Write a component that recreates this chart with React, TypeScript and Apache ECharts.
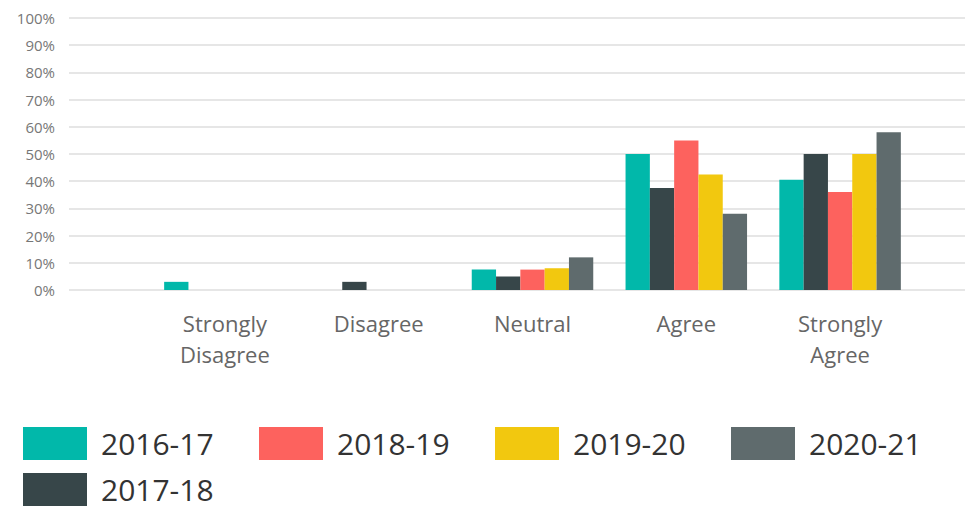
import React, { useEffect, useRef } from "react";
import * as echarts from "echarts";

const categories = ["Strongly\nDisagree", "Disagree", "Neutral", "Agree", "Strongly\nAgree"];
const seriesNames = ["2016-17", "2017-18", "2018-19", "2019-20", "2020-21"];
const seriesColors = ["#01B8AA", "#374649", "#FD625E", "#F2C80F", "#5F6B6D"];
const v2016_17 = [3, 0, 7.5, 50, 40.5];
const v2017_18 = [0, 3, 5, 37.5, 50];
const v2018_19 = [0, 0, 7.5, 55, 36];
const v2019_20 = [0, 0, 8, 42.5, 50];
const v2020_21 = [0, 0, 12, 28, 58];
const seriesValues = [v2016_17, v2017_18, v2018_19, v2019_20, v2020_21];
const yTicks = [0, 10, 20, 30, 40, 50, 60, 70, 80, 90, 100];

const FONT = "'Segoe UI', 'Open Sans', 'Noto Sans', sans-serif";

// legend layout: [name, left, top]
const legendLayout: [string, number, number][] = [
  ["2016-17", 23, 427],
  ["2018-19", 259, 427],
  ["2019-20", 495, 427],
  ["2020-21", 731, 427],
  ["2017-18", 23, 473],
];

export default function App() {
  const ref = useRef<HTMLDivElement>(null);
  useEffect(() => {
    if (!ref.current) return;
    const chart = echarts.init(ref.current, null, { renderer: "svg" });
    chart.setOption({
      animation: false,
      textStyle: { fontFamily: FONT },
      grid: [
        { left: 69, right: 1, top: 18, bottom: 220 },
        { left: 148, right: 49, top: 18, bottom: 220 },
      ],
      xAxis: [
        { gridIndex: 0, type: "category", data: categories, show: false },
        {
          gridIndex: 1,
          type: "category",
          data: categories,
          axisLine: { show: false },
          axisTick: { show: false },
          axisLabel: {
            color: "#666666",
            fontSize: 22,
            lineHeight: 31,
            margin: 17,
            fontFamily: FONT,
          },
        },
      ],
      yAxis: [
        {
          gridIndex: 0,
          type: "value",
          min: yTicks[0],
          max: yTicks[yTicks.length - 1],
          interval: 10,
          axisLine: { show: false },
          axisTick: { show: false },
          axisLabel: {
            formatter: "{value}%",
            color: "#777777",
            fontSize: 15,
            margin: 14,
            fontFamily: FONT,
          },
          splitLine: { lineStyle: { color: "#dedede", width: 1.5 } },
        },
        {
          gridIndex: 1,
          type: "value",
          min: 0,
          max: 100,
          show: false,
          splitLine: { show: false },
        },
      ],
      legend: legendLayout.map(([name, left, top]) => ({
        data: [name],
        left,
        top,
        padding: 0,
        icon: "rect",
        itemWidth: 64,
        itemHeight: 33,
        selectedMode: false,
        textStyle: {
          fontSize: 30,
          lineHeight: 28,
          color: "#333333",
          fontFamily: FONT,
          padding: [0, 0, 0, 9],
        },
      })),
      series: seriesNames.map((name, i) => ({
        name,
        type: "bar",
        xAxisIndex: 1,
        yAxisIndex: 1,
        data: seriesValues[i],
        barGap: "0%",
        barCategoryGap: "21%",
        itemStyle: { color: seriesColors[i] },
        emphasis: { disabled: true },
      })),
    });
    return () => chart.dispose();
  }, []);
  return (
    <div
      ref={ref}
      style={{ position: "absolute", left: 0, top: 0, width: 966, height: 510 }}
    />
  );
}
